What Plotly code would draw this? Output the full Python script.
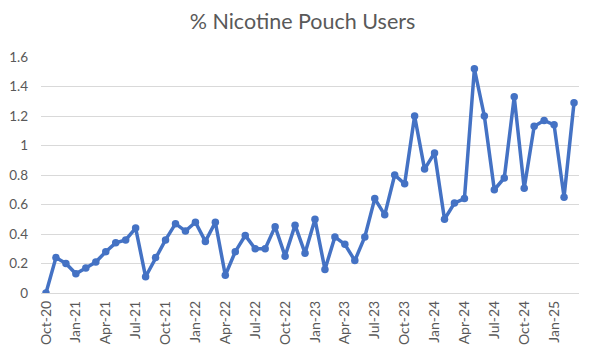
import plotly.graph_objects as go

months = ["Oct-20","Nov-20","Dec-20","Jan-21","Feb-21","Mar-21","Apr-21","May-21","Jun-21","Jul-21",
          "Aug-21","Sep-21","Oct-21","Nov-21","Dec-21","Jan-22","Feb-22","Mar-22","Apr-22","May-22",
          "Jun-22","Jul-22","Aug-22","Sep-22","Oct-22","Nov-22","Dec-22","Jan-23","Feb-23","Mar-23",
          "Apr-23","May-23","Jun-23","Jul-23","Aug-23","Sep-23","Oct-23","Nov-23","Dec-23","Jan-24",
          "Feb-24","Mar-24","Apr-24","May-24","Jun-24","Jul-24","Aug-24","Sep-24","Oct-24","Nov-24",
          "Dec-24","Jan-25","Feb-25","Mar-25"]
users_pct = [0.00, 0.24, 0.20, 0.13, 0.17, 0.21, 0.28, 0.34, 0.36, 0.44,
             0.11, 0.24, 0.36, 0.47, 0.42, 0.48, 0.35, 0.48, 0.12, 0.28,
             0.39, 0.30, 0.30, 0.45, 0.25, 0.46, 0.27, 0.50, 0.16, 0.38,
             0.33, 0.22, 0.38, 0.64, 0.53, 0.80, 0.74, 1.20, 0.84, 0.95,
             0.50, 0.61, 0.64, 1.52, 1.20, 0.70, 0.78, 1.33, 0.71, 1.13,
             1.17, 1.14, 0.65, 1.29]
tick_labels = months[::3]
y_ticks = [0, 0.2, 0.4, 0.6, 0.8, 1, 1.2, 1.4, 1.6]

fig = go.Figure(go.Scatter(
    x=months, y=users_pct, mode="lines+markers",
    line=dict(color="#4472C4", width=3.5),
    marker=dict(color="#4472C4", size=7.5),
    hoverinfo="x+y",
))

# page body has an 8px default margin, so the figure is made 8px smaller
fig.update_layout(
    width=589, height=348,
    margin=dict(l=33, r=18, t=49, b=63, autoexpand=False),
    paper_bgcolor="white", plot_bgcolor="white",
    font=dict(family="Lato, Liberation Sans, sans-serif", color="#595959", size=12),
    title=dict(text="% Nicotine Pouch Users", x=0.5, xanchor="center", y=0.96, yanchor="middle",
               font=dict(size=21.5, color="#595959")),
    showlegend=False,
)
fig.update_xaxes(
    type="category", categoryorder="array", categoryarray=months,
    range=[-0.5, len(months) - 0.5], automargin=False,
    tickmode="array", tickvals=tick_labels, ticktext=tick_labels,
    tickangle=-90, showgrid=False, showline=False, ticks="",
    ticklabelstandoff=4,
    tickfont=dict(size=14, color="#595959"),
)
fig.update_yaxes(
    range=[0, 1.6], tickmode="array", tickvals=y_ticks, automargin=False,
    ticktext=[f"{v:g}" for v in y_ticks],
    showgrid=True, gridcolor="#D9D9D9", gridwidth=1,
    zeroline=True, zerolinecolor="#D9D9D9", zerolinewidth=1,
    showline=False, ticks="", ticklabelstandoff=12,
    tickfont=dict(size=13.5, color="#595959"),
)

fig.write_html("out.html")
